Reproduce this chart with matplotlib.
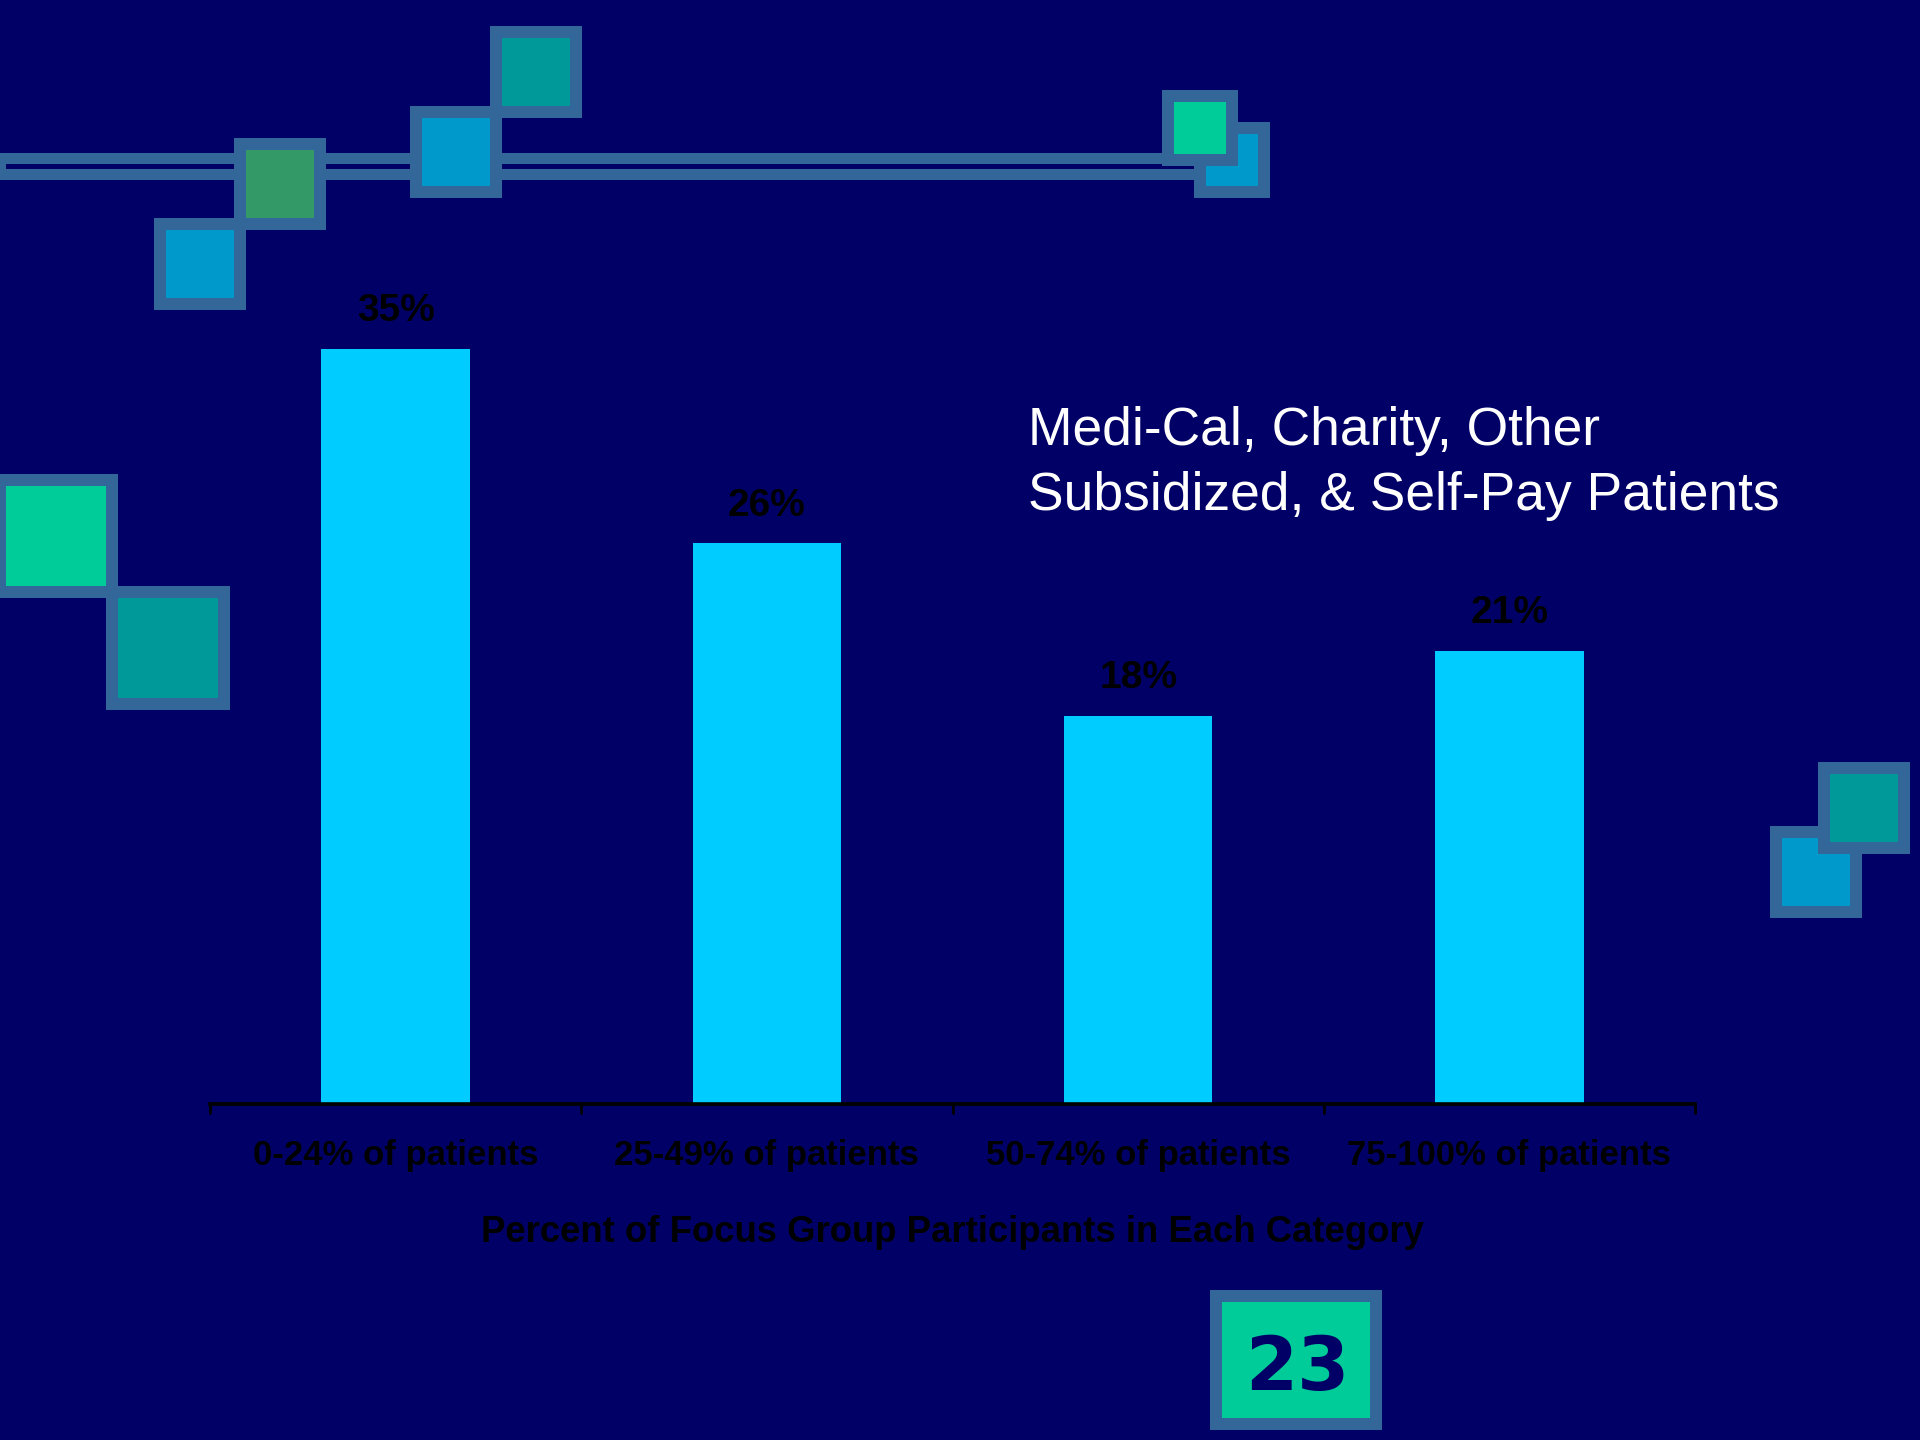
import matplotlib
matplotlib.use("Agg")
from matplotlib import pyplot as plt
from matplotlib.patches import Rectangle
import numpy as np

categories = ["0-24% of patients", "25-49% of patients",
              "50-74% of patients", "75-100% of patients"]
shares = [35, 26, 18, 21]
share_labels = ["35%", "26%", "18%", "21%"]

heading_lines = ["Medi-Cal, Charity, Other",
                 "Subsidized, & Self-Pay Patients"]
axis_title = "Percent of Focus Group Participants in Each Category"
page_no = "23"

navy = "#000066"
frame = "#336699"
bar_color = "#00CCFF"
blue = "#0099CC"
green = "#339966"
teal = "#009999"
mint = "#00CC99"

plt.rcParams["font.family"] = ["Liberation Sans", "DejaVu Sans"]

W, H = 1920, 1440
fig = plt.figure(figsize=(W / 100, H / 100), dpi=100, facecolor=navy)

# background layer in pixel units for the ornaments
deco = fig.add_axes([0, 0, 1, 1], zorder=0)
deco.set_xlim(0, W)
deco.set_ylim(H, 0)
deco.axis("off")


def box(x, y, size, fill, border=12):
    deco.add_patch(Rectangle((x, y), size, size, facecolor=frame, edgecolor="none"))
    deco.add_patch(Rectangle((x + border, y + border), size - 2 * border,
                             size - 2 * border, facecolor=fill, edgecolor="none"))


# double rule across the top
deco.add_patch(Rectangle((-6, 153), 1240, 27, facecolor=frame, edgecolor="none"))
deco.add_patch(Rectangle((6, 164), 1220, 5, facecolor=navy, edgecolor="none"))

box(154, 218, 92, blue)
box(234, 138, 92, green)
box(410, 106, 92, blue)
box(490, 26, 92, teal)
box(1194, 122, 76, blue)
box(1162, 90, 76, mint)

box(-6, 474, 124, mint)
box(106, 586, 124, teal)

box(1770, 826, 92, blue)
box(1818, 762, 92, teal)

# page number badge
deco.add_patch(Rectangle((1210, 1290), 172, 140, facecolor=frame, edgecolor="none"))
deco.add_patch(Rectangle((1222, 1302), 148, 116, facecolor=mint, edgecolor="none"))
deco.text(1297, 1390, page_no, ha="center", va="baseline", fontsize=54,
          fontweight="bold", color=navy, family="DejaVu Sans")

# heading
deco.text(1028, 445, heading_lines[0], ha="left", va="baseline",
          fontsize=38.4, color="white")
deco.text(1028, 510, heading_lines[1], ha="left", va="baseline",
          fontsize=38.4, color="white")

# bar chart
ax = fig.add_axes([210 / W, 336 / H, 1485 / W, 863 / H], zorder=1)
ax.set_facecolor("none")
x = np.arange(len(categories))
bars = ax.bar(x, shares, width=0.4, color=bar_color)
ax.bar_label(bars, labels=share_labels, padding=14, fontsize=28,
             fontweight="bold", color="black")

ax.set_xlim(-0.5, len(categories) - 0.5)
ax.set_ylim(0, 40)
for s in ["top", "right", "left"]:
    ax.spines[s].set_visible(False)
ax.spines["bottom"].set_color("black")
ax.spines["bottom"].set_linewidth(2.6)
ax.set_yticks([])

ax.set_xticks(np.arange(len(categories) + 1) - 0.5)
ax.set_xticklabels([])
ax.set_xticks(x, minor=True)
ax.set_xticklabels(categories, minor=True)
ax.tick_params(axis="x", which="major", direction="out", length=7.5,
               width=2, color="black")
ax.tick_params(axis="x", which="minor", length=0, pad=25, labelsize=25,
               labelcolor="black")
for lbl in ax.get_xticklabels(minor=True):
    lbl.set_fontweight("bold")

ax.set_xlabel(axis_title, fontsize=26.3, fontweight="bold", color="black",
              labelpad=31)

fig.savefig("out.png", dpi=100, facecolor=navy)
